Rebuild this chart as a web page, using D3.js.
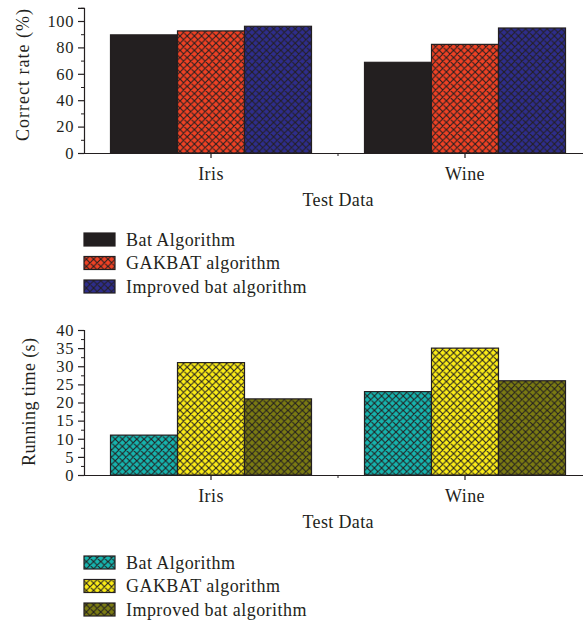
<!DOCTYPE html>
<html><head><meta charset="utf-8">
<script src="https://cdn.jsdelivr.net/npm/d3@7"></script>
<style>body{margin:0;background:#fff}svg{display:block}text{font-family:"Liberation Serif","DejaVu Serif",serif;fill:#231f20}</style>
</head><body><svg id="c" width="583" height="624"></svg>
<script>
const categories = ["Iris", "Wine"];
const series = ["Bat Algorithm", "GAKBAT algorithm", "Improved bat algorithm"];
const correctRate = [[89.5, 92.5, 96], [68.7, 82.3, 94.7]];
const runningTime = [[11, 31, 21], [23, 35, 26]];
const topTicks = [0, 20, 40, 60, 80, 100];
const bottomTicks = [0, 5, 10, 15, 20, 25, 30, 35, 40];
const topColors = ["#231f20", "#ef4124", "#2e2d8c"];
const topPattern = [false, true, true];
const bottomColors = ["#16b4ae", "#fbec17", "#7b7b12"];
const bottomPattern = [true, true, true];

const svg = d3.select("#c");
const ink = "#231f20";
const defs = svg.append("defs");
function hatch(id, color) {
  const p = defs.append("pattern").attr("id", id).attr("patternUnits", "userSpaceOnUse")
    .attr("width", 7.2).attr("height", 7.2);
  p.append("rect").attr("width", 7.2).attr("height", 7.2).attr("fill", color);
  p.append("path").attr("d", "M0,0L7.2,7.2M7.2,0L0,7.2M-1,6.2L1,8.2M6.2,-1L8.2,1")
    .attr("stroke", ink).attr("stroke-width", 1.1).attr("fill", "none");
  return "url(#" + id + ")";
}

function chart(opt) {
  const g = svg.append("g");
  const x0 = d3.scaleBand().domain(categories).range([84, 592]);
  const bw = x0.bandwidth();
  const x1 = d3.scaleBand().domain(series).range([(bw - 201) / 2, (bw + 201) / 2]);
  const y = d3.scaleLinear().domain(opt.domain).range([opt.y0, opt.y1]);
  const fills = series.map((s, i) => opt.pattern[i] ? hatch(opt.id + i, opt.colors[i]) : opt.colors[i]);

  categories.forEach((c, ci) => {
    series.forEach((s, si) => {
      const v = opt.values[ci][si];
      g.append("rect").attr("x", x0(c) + x1(s)).attr("width", x1.bandwidth())
        .attr("y", y(v)).attr("height", y(0) - y(v))
        .attr("fill", fills[si]).attr("stroke", ink).attr("stroke-width", 1.2);
    });
  });

  const ya = g.append("g").attr("transform", "translate(84,0)")
    .call(d3.axisLeft(y).tickValues(opt.ticks).tickSize(6).tickPadding(4));
  ya.select(".domain").attr("stroke", ink).attr("stroke-width", 1.2);
  ya.selectAll(".tick line").attr("stroke", ink).attr("stroke-width", 1.2);
  ya.selectAll(".tick text").attr("font-size", 16.5).attr("font-family", "Liberation Serif")
    .attr("fill", ink).attr("letter-spacing", 0.6);
  g.append("g").attr("transform", "translate(84,0)")
    .call(d3.axisLeft(y).tickValues(opt.minor).tickSize(3).tickFormat(""))
    .call(a => { a.select(".domain").remove(); a.selectAll("line").attr("stroke", ink).attr("stroke-width", 1); });

  const xa = g.append("g").attr("transform", `translate(0,${opt.y0})`)
    .call(d3.axisBottom(x0).tickSize(5).tickPadding(9).tickSizeOuter(0));
  xa.select(".domain").attr("stroke", ink).attr("stroke-width", 1.2);
  xa.selectAll(".tick line").attr("stroke", ink).attr("stroke-width", 1.2);
  xa.selectAll(".tick text").attr("font-size", 18).attr("font-family", "Liberation Serif")
    .attr("fill", ink).attr("letter-spacing", 0.4);
  g.append("line").attr("x1", x0.range()[0] + bw).attr("x2", x0.range()[0] + bw)
    .attr("y1", opt.y0).attr("y2", opt.y0 + 3).attr("stroke", ink).attr("stroke-width", 1);

  g.append("text").attr("x", 338).attr("y", opt.xlabY).attr("text-anchor", "middle")
    .attr("font-size", 18).attr("textLength", 71).attr("lengthAdjust", "spacing").text("Test Data");
  g.append("text").attr("transform", `translate(${opt.ylabX},${opt.ylabY}) rotate(-90)`)
    .attr("text-anchor", "middle").attr("font-size", 18)
    .attr("textLength", opt.ylabLen).attr("lengthAdjust", "spacing").text(opt.ylab);

  series.forEach((s, i) => {
    const ly = opt.legY + i * 23.5;
    g.append("rect").attr("x", 84).attr("y", ly - 7).attr("width", 31).attr("height", 13)
      .attr("fill", fills[i]).attr("stroke", ink).attr("stroke-width", 1.2);
    g.append("text").attr("x", 126).attr("y", ly).attr("dy", "0.33em")
      .attr("font-size", 18).attr("letter-spacing", 0.45).text(s);
  });
}

chart({id: "t", domain: [0, 110], y0: 153, y1: 7.8, values: correctRate, ticks: topTicks,
  minor: [10, 30, 50, 70, 90, 110], colors: topColors, pattern: topPattern,
  xlabY: 206, ylab: "Correct rate (%)", ylabX: 29, ylabY: 75, ylabLen: 132, legY: 240});
chart({id: "b", domain: [0, 40], y0: 475, y1: 330, values: runningTime, ticks: bottomTicks,
  minor: [2.5, 7.5, 12.5, 17.5, 22.5, 27.5, 32.5, 37.5], colors: bottomColors, pattern: bottomPattern,
  xlabY: 528, ylab: "Running time (s)", ylabX: 35, ylabY: 402, ylabLen: 128, legY: 563});
</script></body></html>
